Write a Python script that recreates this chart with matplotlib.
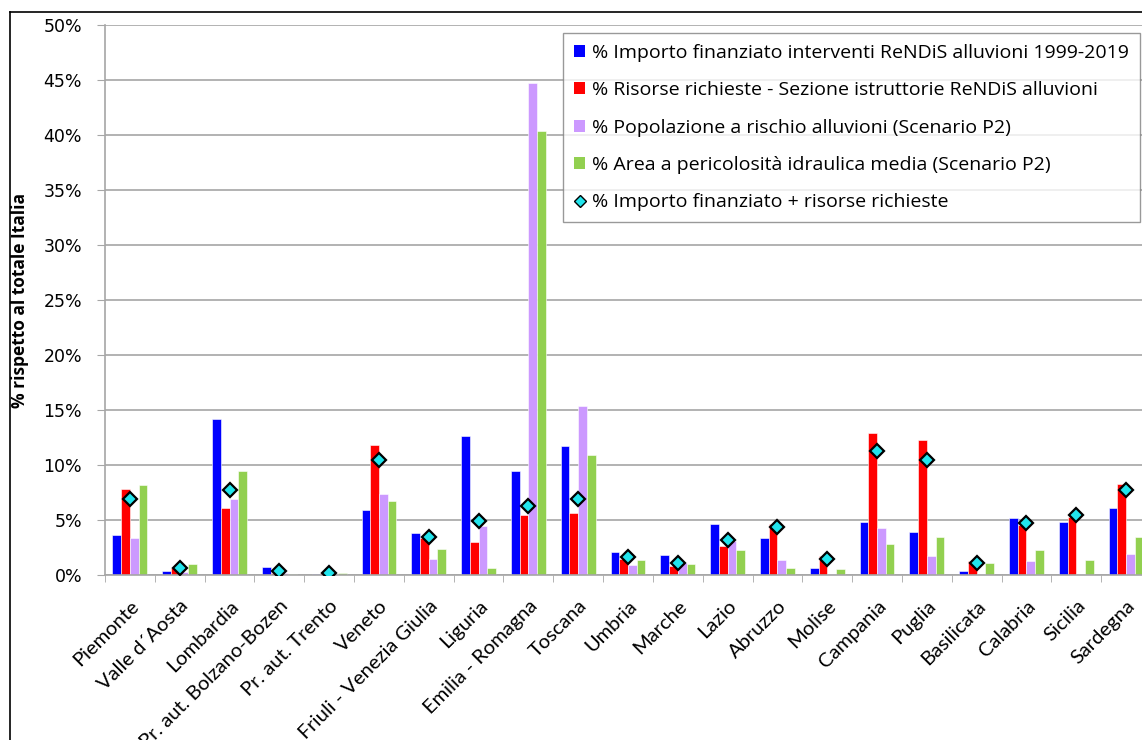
import numpy as np
import matplotlib
matplotlib.use("Agg")
import matplotlib.pyplot as plt
import matplotlib.transforms as mtransforms
from matplotlib.lines import Line2D
from matplotlib.patches import Patch
from matplotlib.ticker import FixedLocator, PercentFormatter

regions = ["Piemonte", "Valle d\u00b4Aosta", "Lombardia", "Pr. aut. Bolzano-Bozen", "Pr. aut. Trento",
           "Veneto", "Friuli - Venezia Giulia", "Liguria", "Emilia - Romagna", "Toscana",
           "Umbria", "Marche", "Lazio", "Abruzzo", "Molise", "Campania", "Puglia",
           "Basilicata", "Calabria", "Sicilia", "Sardegna"]

importo = [3.6, 0.4, 14.15, 0.7, 0.1, 5.9, 3.8, 12.6, 9.45, 11.7,
           2.1, 1.8, 4.6, 3.35, 0.6, 4.85, 3.9, 0.4, 5.2, 4.85, 6.1]
risorse = [7.8, 0.67, 6.1, 0.15, 0.2, 11.8, 3.35, 3.0, 5.5, 5.6,
           1.45, 0.8, 2.6, 4.6, 1.75, 12.9, 12.3, 1.25, 4.55, 5.25, 8.25]
popolazione = [3.4, 0.25, 6.95, 0.15, 0.05, 7.4, 1.45, 4.45, 44.7, 15.4,
               0.9, 1.05, 3.1, 1.33, 0.05, 4.27, 1.75, 0.05, 1.27, 0.05, 1.95]
area = [8.15, 1.0, 9.45, 0.05, 0.15, 6.7, 2.4, 0.6, 40.4, 10.95,
        1.33, 1.0, 2.27, 0.6, 0.55, 2.8, 3.5, 1.1, 2.27, 1.4, 3.43]
somma = [6.9, 0.6, 7.7, 0.36, 0.2, 10.5, 3.5, 4.9, 6.3, 6.9,
         1.6, 1.1, 3.2, 4.4, 1.5, 11.27, 10.5, 1.1, 4.7, 5.5, 7.7]

labels = ["% Importo finanziato interventi ReNDiS alluvioni 1999-2019",
          "% Risorse richieste - Sezione istruttorie ReNDiS alluvioni",
          "% Popolazione a rischio alluvioni (Scenario P2)",
          "% Area a pericolosit\u00e0 idraulica media (Scenario P2)",
          "% Importo finanziato + risorse richieste"]
colors = ["#0000FF", "#FF0000", "#CC99FF", "#92D050"]
diamond_color = "#22E4EC"

W, H = 1142, 740
fig = plt.figure(figsize=(W / 100, H / 100), dpi=100)
ax = fig.add_axes([105 / W, (H - 575) / H, 1046 / W, 550 / H])

x = np.arange(len(regions))
bw = 0.175
series = [importo, risorse, popolazione, area]
for i, (vals, c) in enumerate(zip(series, colors)):
    ax.bar(x + (i - 1.5) * bw, vals, width=bw, color=c, edgecolor="white",
           linewidth=0.4, zorder=2)
ax.plot(x, somma, linestyle="none", marker="D", markersize=7.5,
        markerfacecolor=diamond_color, markeredgecolor="black",
        markeredgewidth=1.6, zorder=3)

ax.set_xlim(-0.5, len(regions) - 0.5)
ax.set_ylim(0, 50)
ax.set_yticks(np.arange(0, 51, 5))
ax.yaxis.set_major_formatter(PercentFormatter(decimals=0))
ax.grid(axis="y", color="#A6A6A6", linewidth=1.2, zorder=0)
ax.set_axisbelow(True)

ax.set_xticks(x)
ax.set_xticklabels(regions, rotation=45, ha="right", va="top",
                   rotation_mode="anchor", fontsize=14.5, family="Lato")
offset = mtransforms.ScaledTranslation(-4 / 100, 0, fig.dpi_scale_trans)
for lab in ax.get_xticklabels():
    lab.set_transform(lab.get_transform() + offset)
ax.xaxis.set_minor_locator(FixedLocator(np.arange(-0.5, len(regions), 1.0)))
ax.tick_params(axis="x", which="major", length=0, pad=16)
ax.tick_params(axis="x", which="minor", length=5, color="#A6A6A6", direction="out")
ax.tick_params(axis="y", length=6, color="#A6A6A6", labelsize=12.5, pad=10.5)
for lab in ax.get_yticklabels():
    lab.set_family("DejaVu Sans")

for s in ["top", "right"]:
    ax.spines[s].set_visible(False)
ax.spines["left"].set_color("#A6A6A6")
ax.spines["left"].set_linewidth(1.2)
ax.spines["bottom"].set_color("#A6A6A6")
ax.spines["bottom"].set_linewidth(1.2)

fig.text(20 / W, (H - 300) / H, "% rispetto al totale Italia", rotation=90,
         fontsize=12.5, fontweight="bold", family="Open Sans", ha="center", va="center")

handles = [Patch(facecolor=c, edgecolor="none") for c in colors]
handles.append(Line2D([], [], linestyle="none", marker="D", markersize=6,
                      markerfacecolor=diamond_color, markeredgecolor="black",
                      markeredgewidth=1.0))
leg = fig.legend(handles, labels, loc="upper left",
                 bbox_to_anchor=(563 / W, (H - 33) / H),
                 prop={"family": "Open Sans", "size": 14},
                 frameon=True, fancybox=False, edgecolor="#808080",
                 handlelength=0.6, handleheight=0.6, handletextpad=0.35,
                 labelspacing=1.0, borderpad=0.55, borderaxespad=0)
leg.get_frame().set_linewidth(1.0)

# outer frame
fig.add_artist(Line2D([10 / W, 10 / W], [0, (H - 12) / H], color="black",
                      linewidth=1.2, transform=fig.transFigure))
fig.add_artist(Line2D([10 / W, 1], [(H - 12) / H, (H - 12) / H], color="black",
                      linewidth=1.2, transform=fig.transFigure))

fig.savefig("out.png", dpi=100)
